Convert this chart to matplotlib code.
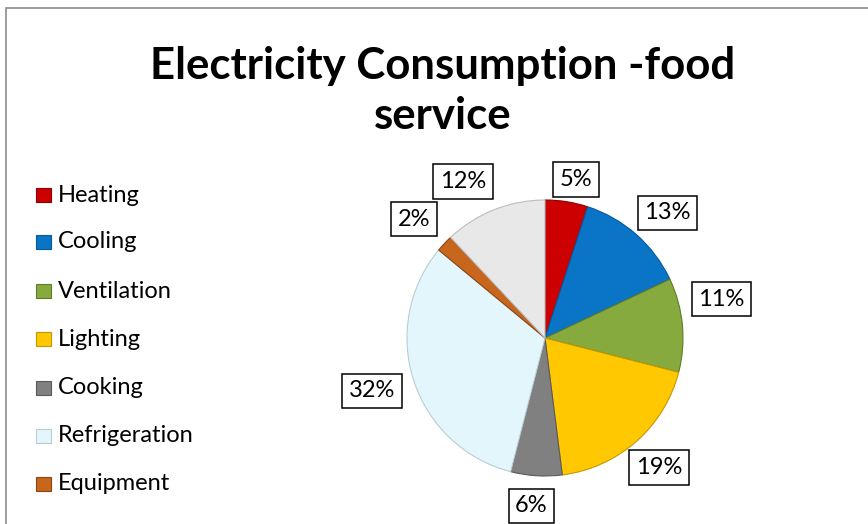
import matplotlib
matplotlib.use("Agg")
import matplotlib.pyplot as plt
import numpy as np
from matplotlib.patches import Rectangle

# Electricity use by end use in food service buildings (percent)
categories = ["Heating", "Cooling", "Ventilation", "Lighting", "Cooking",
              "Refrigeration", "Equipment", "Other"]
shares = [5, 13, 11, 19, 6, 32, 2, 12]
legend_names = ["Heating", "Cooling", "Ventilation", "Lighting", "Cooking",
                "Refrigeration", "Equipment"]
title = "Electricity Consumption -food\nservice"

colors = ["#CC0000", "#0A74C6", "#86AA3E", "#FFC800", "#808080",
          "#E2F6FC", "#C8661E", "#E8E8E8"]
edge_colors = ["#8E0000", "#055A9E", "#5E7C28", "#C89600", "#5A5A5A",
               "#B9CDD4", "#8E4410", "#BDBDBD"]

# label placement: (distance from centre in radii, angular nudge in degrees)
label_place = [(1.17, -2), (1.27, -3), (1.31, 7), (1.25, 0),
               (1.22, -1), (1.31, -1), (1.28, 1), (1.28, 6)]

W, H = 868, 524
fig = plt.figure(figsize=(W / 100, H / 100), dpi=100)
fig.patch.set_facecolor("white")

# chart frame (runs off the right and bottom edges)
fig.patches.append(Rectangle((5.5 / W, -0.05), 2.0, 1.05 - 7.5 / H,
                             transform=fig.transFigure, fill=False,
                             edgecolor="#8C8C8C", linewidth=1.2))

fig.text(443 / W, 1 - 91 / H, title, ha="center", va="center",
         fontsize=31.5, fontweight="bold", family="Lato",
         linespacing=1.32, color="#000000")

cx, cy, r = 545, 338, 138
ax = fig.add_axes([(cx - r) / W, (H - cy - r) / H, 2 * r / W, 2 * r / H])
wedges, _ = ax.pie(shares, colors=colors, startangle=90, counterclock=False,
                   wedgeprops=dict(linewidth=0.8))
for w, ec in zip(wedges, edge_colors):
    w.set_edgecolor(ec)

ax.set_xlim(-1, 1)
ax.set_ylim(-1, 1)
ax.set_aspect("equal")

for w, v, (d, nudge) in zip(wedges, shares, label_place):
    mid = np.deg2rad((w.theta1 + w.theta2) / 2 + nudge)
    ax.text(d * np.cos(mid), d * np.sin(mid), f"{v}%", ha="center",
            va="center", fontsize=17, family="Lato", color="#000000",
            zorder=5,
            bbox=dict(boxstyle="square,pad=0.28", facecolor="white",
                      edgecolor="#000000", linewidth=1.1))

# legend
leg_y = [195, 242, 291, 339, 388, 436, 484]
for name, c, ec, y in zip(legend_names, colors, edge_colors, leg_y):
    fig.patches.append(Rectangle((36 / W, 1 - (y + 7) / H), 15 / W, 14 / H,
                                 transform=fig.transFigure, facecolor=c,
                                 edgecolor=ec, linewidth=0.8))
    fig.text(58 / W, 1 - y / H, name, ha="left", va="center",
             fontsize=17, family="Lato", color="#000000")

fig.savefig("out.png", dpi=100)
